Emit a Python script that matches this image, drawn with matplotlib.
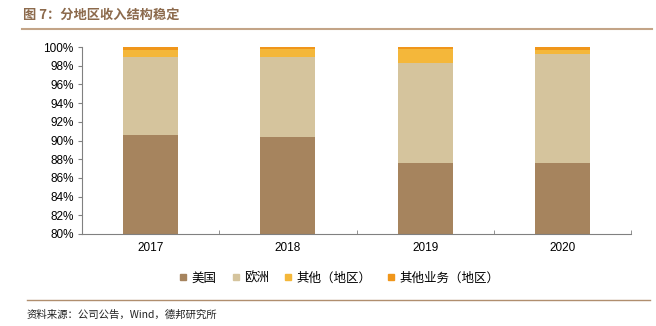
import matplotlib
matplotlib.use("Agg")
import matplotlib.pyplot as plt
import numpy as np
from matplotlib.lines import Line2D

plt.rcParams['font.family'] = ['Liberation Sans', 'Noto Sans CJK SC', 'DejaVu Sans']

# 分地区收入占比（%）
years = ['2017', '2018', '2019', '2020']
us = [90.6, 90.4, 87.6, 87.6]
europe = [8.3, 8.5, 10.65, 11.6]
other_region = [0.8, 0.9, 1.55, 0.5]
other_biz = [0.3, 0.2, 0.2, 0.3]

series_names = ['美国', '欧洲', '其他（地区）', '其他业务（地区）']
colors = ['#A6845E', '#D5C49D', '#F4B73A', '#F0961A']

fig = plt.figure(figsize=(6.56, 3.26), dpi=100)
ax = fig.add_axes([82 / 656, 1 - 234 / 326, (631 - 82) / 656, (234 - 47) / 326])

x = np.arange(len(years))
bottom = np.zeros(len(years))
for vals, c in zip([us, europe, other_region, other_biz], colors):
    ax.bar(x, vals, bottom=bottom, width=0.4, color=c, linewidth=0)
    bottom += np.array(vals)

ax.set_ylim(80, 100)
ax.set_xlim(-0.5, len(years) - 0.5)
ax.set_yticks(np.arange(80, 101, 2))
ax.set_yticklabels([f'{v}%' for v in range(80, 101, 2)])
ax.set_xticks(x)
ax.set_xticklabels(years)
ax.set_xticks(np.arange(-0.5, len(years), 1), minor=True)
ax.tick_params(axis='x', which='major', length=0, pad=6, labelsize=8.5)
ax.tick_params(axis='x', which='minor', direction='in', length=3, color='#808080')
ax.tick_params(axis='y', direction='out', length=3, color='#808080', labelsize=8.5, pad=3)
for s in ['top', 'right']:
    ax.spines[s].set_visible(False)
for s in ['left', 'bottom']:
    ax.spines[s].set_color('#808080')
    ax.spines[s].set_linewidth(0.8)

# 图例
handles = [Line2D([], [], marker='s', linestyle='none', markersize=5,
                  markerfacecolor=c, markeredgecolor=c) for c in colors]
fig.legend(handles, series_names, loc='center', bbox_to_anchor=(338 / 656, 1 - 278 / 326),
           ncol=4, frameon=False, handletextpad=0.2, columnspacing=1.0, handlelength=1.0,
           prop={'family': ['Noto Sans CJK SC'], 'size': 9})

# 标题与来源
fig.text(23 / 656, 1 - 15 / 326, '图 7：分地区收入结构稳定', fontsize=9.5, color='#8C6A4C',
         fontweight='bold', va='center', ha='left', family=['Noto Sans CJK SC'])
fig.add_artist(Line2D([22 / 656, 652 / 656], [1 - 29 / 326, 1 - 29 / 326],
                      color='#C3A487', linewidth=1.5, transform=fig.transFigure))
fig.add_artist(Line2D([27 / 656, 650 / 656], [1 - 300 / 326, 1 - 300 / 326],
                      color='#B08E6E', linewidth=1.0, transform=fig.transFigure))
fig.text(27 / 656, 1 - 315 / 326, '资料来源：公司公告，Wind，德邦研究所', fontsize=7.5,
         color='#222222', va='center', ha='left', family=['Noto Sans CJK SC', 'Liberation Sans'])

fig.savefig('out.png', dpi=100)
